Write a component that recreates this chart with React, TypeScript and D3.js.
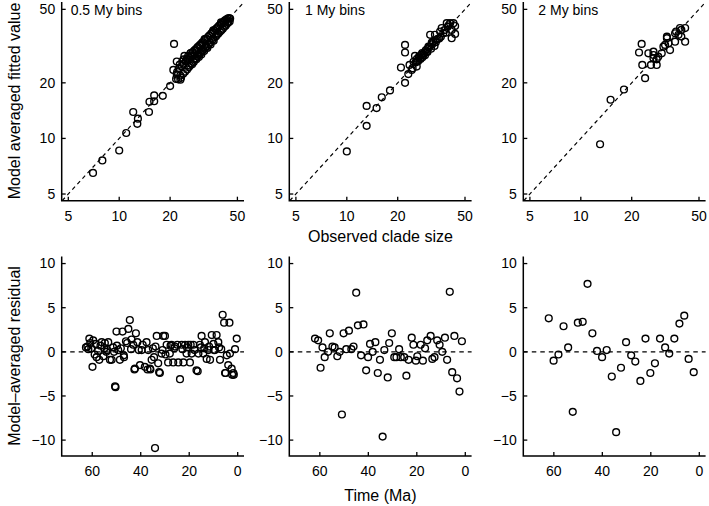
import React from 'react';
import * as d3 from 'd3';

// ---------- data ----------
const binLabels = ['0.5 My bins', '1 My bins', '2 My bins'];
const logTicks = [5, 10, 20, 50];
const timeTicks = [60, 40, 20, 0];
const resTicks = [-10, -5, 0, 5, 10];

const obs05 = [7.0,7.95,10.0,11.0,12.1,12.8,12.9,15.0,15.1,16.1, 16.1,18.1,20.0,21.1,21.7,20.9,21.9,21.9,22.3,22.5, 22.8,23.0,23.2,23.5,23.6,23.9,24.1,24.3,24.5,24.8, 25.0,25.2,25.4,25.6,25.8,26.0,26.2,26.4,26.6,26.8, 27.0,27.2,27.4,27.6,27.8,28.0,28.2,28.4,28.6,28.8, 29.0,29.2,29.4,29.6,29.8,30.0,30.2,30.4,30.6,30.8, 31.0,31.2,31.5,31.8,32.0,32.3,32.6,32.9,33.2,33.5, 33.8,34.1,34.4,34.7,35.0,35.3,35.6,35.9,36.2,36.5, 36.8,37.1,37.4,37.7,38.0,38.3,38.6,39.0,39.4,39.8, 40.2,40.6,41.0,41.4,41.8,42.2,42.6,43.0,43.4,43.8, 44.2,44.6,45.0,45.3,22.0,24.0,26.5,32.0,36.0,40.0, 23.0];
const fit05 = [6.5,7.6,8.6,10.7,13.9,12.0,12.8,13.9,15.8,15.9, 17.1,17.0,19.2,32.5,21.0,23.5,26.1,22.2,20.9,23.8, 25.1,21.9,21.3,24.6,26.0,22.4,25.4,28.0,23.0,26.2, 27.0,23.6,26.6,28.0,24.3,27.5,24.8,28.9,25.6,28.2, 25.2,29.3,28.0,25.9,29.9,26.8,30.3,27.2,26.8,30.8, 27.8,31.3,28.3,27.6,31.8,28.8,32.2,29.2,28.5,32.8, 29.9,33.2,30.2,29.7,34.0,31.0,34.6,31.4,30.9,35.4, 32.4,36.0,33.0,32.3,36.9,33.9,37.5,34.4,33.8,38.3, 35.4,39.0,35.8,39.5,36.5,40.1,37.0,40.8,37.8,41.4, 38.5,42.0,39.2,42.8,40.3,43.6,40.8,44.0,41.8,44.5, 42.5,44.9,43.0,44.6,22.9,26.8,29.0,34.5,38.5,42.5, 20.8];

const obs1 = [10.0,13.1,13.1,15.0,16.1,18.0,20.9,22.1,22.1,22.1, 23.1,24.2,25.3,25.9,25.9,27.1,28.4,29.7,30.4,31.1, 32.5,33.2,34.0,35.6,36.4,37.2,39.0,40.8,41.7,41.7, 43.7,43.7,42.7,24.8,25.5,26.0,26.4,26.8,27.3,27.7, 28.0,28.6,29.0,29.3,30.0,30.8,31.5,32.0,33.0,33.6, 34.5,35.2,36.0,37.8,38.5,39.5,40.0,23.5,24.5,26.6, 27.9,29.9,31.8];
const fit1 = [8.5,11.7,15.0,14.6,16.7,18.2,24.2,20.0,32.1,29.2, 22.3,23.5,28.0,24.5,26.1,27.2,28.3,29.5,31.4,36.4, 33.4,36.4,34.2,37.9,39.6,37.1,42.1,42.1,38.7,34.9, 36.8,40.6,42.1,26.0,25.8,27.0,26.2,27.8,26.9,28.4, 27.5,29.0,28.2,30.0,29.4,31.2,30.6,32.4,31.7,33.2, 34.6,34.8,35.5,38.6,37.4,40.2,41.0,25.0,24.0,27.3, 29.0,30.5,33.0];

const obs2 = [13.0,15.0,18.0,24.0,22.9,22.1,23.1,25.1,26.0,26.9, 26.9,26.9,28.1,28.1,28.7,30.1,30.8,31.5,32.3,32.3, 33.7,33.0,36.1,36.1,36.6,38.6,39.3,41.4,41.4,39.3, 37.8];
const fit2 = [9.3,16.2,18.4,21.2,32.5,29.2,25.0,28.9,25.0,29.5, 28.3,27.2,25.0,26.8,27.7,28.9,31.4,32.1,35.6,34.9, 30.1,32.8,33.4,37.1,37.9,39.6,35.6,33.4,39.6,38.7, 36.4];

const time05 = [62.6,61.2,59.6,59.9,58.2,57.1,56.1,54.8,53.4,53.8, 52.7,52.0,50.0,49.3,48.6,47.5,46.9,46.1,45.1,44.5, 43.8,43.1,42.4,42.0,41.4,40.3,39.6,38.3,37.6,36.9, 36.2,35.5,34.5,33.4,32.8,32.1,30.7,30.0,31.4,29.3, 28.7,28.0,27.3,26.6,25.9,24.5,23.8,23.1,22.4,21.7, 21.1,20.4,19.7,19.0,18.3,17.0,16.2,15.6,14.9,14.2, 13.5,12.8,12.1,11.4,10.7,10.0,9.4,8.7,8.0,7.3, 6.2,5.6,3.4,4.5,3.2,3.9,2.5,1.8,1.1,0.4, 5.0,50.6,50.4,42.6,37.2,36.0,32.4,34.1,16.5,5.2, 2.3,1.6, 62.0,61.6,60.8,60.4,59.0,58.6,57.6,56.6,55.4,55.0, 54.2,51.4,51.0,49.8,48.2,47.0,45.6,44.0,40.8,39.2, 35.0,33.9,31.0,29.8,27.7,26.1,24.9,22.8,20.9,19.4, 17.8,15.2,13.8,11.8,9.8,7.7,6.8];
const res05 = [0.5,1.5,1.3,-1.7,-0.6,-0.9,1.1,1.0,1.1,0.2, -0.9,-0.9,2.3,0.2,-0.9,2.3,-0.6,1.2,2.6,3.6, 1.4,0.8,-1.9,2.1,1.1,-1.5,0.2,-1.7,1.1,0.2, -1.9,-0.9,-0.6,1.8,-1.3,-2.4,1.8,1.8,-0.2,0.8, -1.2,-0.2,0.8,-1.2,0.6,-1.2,-3.1,0.8,-1.2,0.8, -0.2,0.8,-1.2,-0.2,0.8,-2.1,-0.2,0.8,1.8,-0.2, 1.1,-0.8,0.2,-0.9,1.9,0.9,0.2,1.9,1.1,-0.9, 4.2,3.3,3.3,-0.4,-0.2,-1.5,-1.9,-2.4,0.3,1.5, -2.4,-3.9,-4.0,-2.0,-2.0,-2.0,-2.3,-10.9,-2.2,-2.4, -2.6,-2.6, 0.6,0.3,1.0,0.4,-0.3,0.9,0.1,0.7,-0.5,0.4, 0.0,0.5,0.0,0.7,0.4,-0.4,1.0,0.3,0.2,0.8, 0.4,0.6,0.2,-0.3,0.7,0.4,0.8,0.3,0.5,0.8, 0.2,0.5,0.4,0.6,0.2,0.5,0.3];

const time1 = [62.0,60.7,59.7,58.9,58.0,56.6,55.9,54.8,53.9,52.8, 51.8,50.2,49.1,48.0,47.0,46.1,45.0,44.3,42.0,43.0, 40.9,40.1,39.3,38.2,37.1,36.1,35.2,33.4,32.0,31.4, 30.3,29.3,28.4,27.3,26.6,25.2,24.3,23.4,22.1,21.4, 20.4,19.8,18.4,17.5,16.6,15.7,14.3,13.6,12.7,11.6, 10.6,9.5,8.4,7.5,6.4,5.4,4.5,3.4,1.4,50.9, 34.1,2.4];
const res1 = [1.5,1.3,-1.8,0.5,-0.6,0.0,2.1,0.6,0.5,-0.5, 0.0,2.1,0.3,2.4,0.3,0.6,6.7,3.0,3.1,-0.4, -2.1,-0.6,0.9,0.0,1.1,-2.4,-0.9,0.2,-2.9,1.0, 2.1,-0.6,-0.6,0.3,-0.6,-0.6,-2.7,-0.9,1.6,0.8, -1.0,-0.5,0.8,-1.0,0.4,1.3,1.8,-0.8,-0.6,1.3, 0.8,0.0,1.6,-0.9,6.8,-2.3,1.8,-3.0,1.2,-7.1, -9.6,-4.5];

const time2 = [62.1,60.1,58.1,56.0,54.1,50.1,48.1,46.1,44.1,42.2, 40.1,38.2,36.1,32.3,30.2,28.1,26.4,24.3,22.2,20.2, 18.3,16.2,14.1,12.4,10.3,8.2,6.2,4.4,2.3,52.2, 34.3];
const res2 = [3.8,-1.0,-0.3,2.9,0.5,3.3,3.4,7.7,2.1,0.1, -0.6,0.2,-2.8,-1.8,1.1,-0.4,-1.1,-3.3,1.5,-2.4, -1.3,1.5,0.5,-0.2,1.5,3.2,4.1,-0.8,-2.3,-6.8, -9.1];

const topSeries = [[obs05, fit05], [obs1, fit1], [obs2, fit2]];
const botSeries = [[time05, res05], [time1, res1], [time2, res2]];

// ---------- layout ----------
const W = 709, H = 506;
const panelLefts = [61.7, 289.3, 523.3];
const panelW = 182.3;
const topRange = [200.7, 2];
const botRange = [456, 256.5];
const titleOffsets = [9, 15.7, 15];
const FONT = "'Liberation Sans', Arial, Helvetica, sans-serif";
const TICK = 4;

const fmt = (v: number) => (v < 0 ? '\u2212' + Math.abs(v) : String(v));

function TopPanel({ i }: { i: number }) {
  const L = panelLefts[i];
  const x = d3.scaleLog().domain([4.57, 54.7]).range([L, L + panelW]);
  const y = d3.scaleLog().domain([4.6, 54.8]).range(topRange);
  const [obs, fit] = topSeries[i];
  const pts = d3.zip(obs, fit);
  const lo = 4.6, hi = 54.7;
  const diag = d3.line<number>().x(v => x(v)).y(v => y(v))([lo, hi]) || '';
  const by = topRange[0];
  return (
    <g>
      <path d={diag} stroke="#000" strokeWidth={1.2} strokeDasharray="4,3.5" fill="none" />
      {pts.map((p, k) => (
        <circle key={k} cx={x(p[0])} cy={y(p[1])} r={3.4} fill="none" stroke="#000" strokeWidth={1.4} />
      ))}
      <path d={`M${L},${topRange[1]}V${by}H${L + panelW}`} stroke="#000" strokeWidth={1.5} fill="none" />
      {logTicks.map(t => (
        <g key={'x' + t}>
          <line x1={x(t)} x2={x(t)} y1={by} y2={by - TICK} stroke="#000" strokeWidth={1.3} />
          <text x={x(t)} y={by + 20} textAnchor="middle" fontSize={14} fontFamily={FONT}>{t}</text>
        </g>
      ))}
      {logTicks.map(t => (
        <g key={'y' + t}>
          <line x1={L} x2={L + TICK} y1={y(t)} y2={y(t)} stroke="#000" strokeWidth={1.3} />
          <text x={L - 6.5} y={y(t)} dy="0.35em" textAnchor="end" fontSize={14} fontFamily={FONT}>{t}</text>
        </g>
      ))}
      <text x={L + titleOffsets[i]} y={15} fontSize={14} fontFamily={FONT}>{binLabels[i]}</text>
    </g>
  );
}

function BottomPanel({ i }: { i: number }) {
  const L = panelLefts[i];
  const x = d3.scaleLinear().domain([72.6, -2.6]).range([L, L + panelW]);
  const y = d3.scaleLinear().domain([-11.8, 10.8]).range(botRange);
  const [tm, rs] = botSeries[i];
  const pts = d3.zip(tm, rs);
  const by = botRange[0];
  return (
    <g>
      <line x1={L} x2={L + panelW} y1={y(0)} y2={y(0)} stroke="#000" strokeWidth={1.2} strokeDasharray="4.5,4" />
      {pts.map((p, k) => (
        <circle key={k} cx={x(p[0])} cy={y(p[1])} r={3.4} fill="none" stroke="#000" strokeWidth={1.4} />
      ))}
      <path d={`M${L},${botRange[1]}V${by}H${L + panelW}`} stroke="#000" strokeWidth={1.5} fill="none" />
      {timeTicks.map(t => (
        <g key={'x' + t}>
          <line x1={x(t)} x2={x(t)} y1={by} y2={by - TICK} stroke="#000" strokeWidth={1.3} />
          <text x={x(t)} y={by + 19.5} textAnchor="middle" fontSize={14} fontFamily={FONT}>{t}</text>
        </g>
      ))}
      {resTicks.map(t => (
        <g key={'y' + t}>
          <line x1={L} x2={L + TICK} y1={y(t)} y2={y(t)} stroke="#000" strokeWidth={1.3} />
          <text x={L - 6.5} y={y(t)} dy="0.35em" textAnchor="end" fontSize={14} fontFamily={FONT}>{fmt(t)}</text>
        </g>
      ))}
    </g>
  );
}

export default function App() {
  const midX = panelLefts[1] + panelW / 2;
  return (
    <svg width={W} height={H} style={{ position: 'absolute', left: 0, top: 0, background: '#fff' }}>
      <rect width={W} height={H} fill="#fff" />
      {[0, 1, 2].map(i => <TopPanel key={'t' + i} i={i} />)}
      {[0, 1, 2].map(i => <BottomPanel key={'b' + i} i={i} />)}
      <text x={midX} y={241.5} textAnchor="middle" fontSize={16} fontFamily={FONT}>Observed clade size</text>
      <text x={midX} y={500.5} textAnchor="middle" fontSize={16} fontFamily={FONT}>Time (Ma)</text>
      <text transform="translate(19.5,101) rotate(-90)" textAnchor="middle" fontSize={16} fontFamily={FONT}>Model averaged fitted value</text>
      <text transform="translate(19.5,356) rotate(-90)" textAnchor="middle" fontSize={16} fontFamily={FONT}>Model–averaged residual</text>
    </svg>
  );
}
